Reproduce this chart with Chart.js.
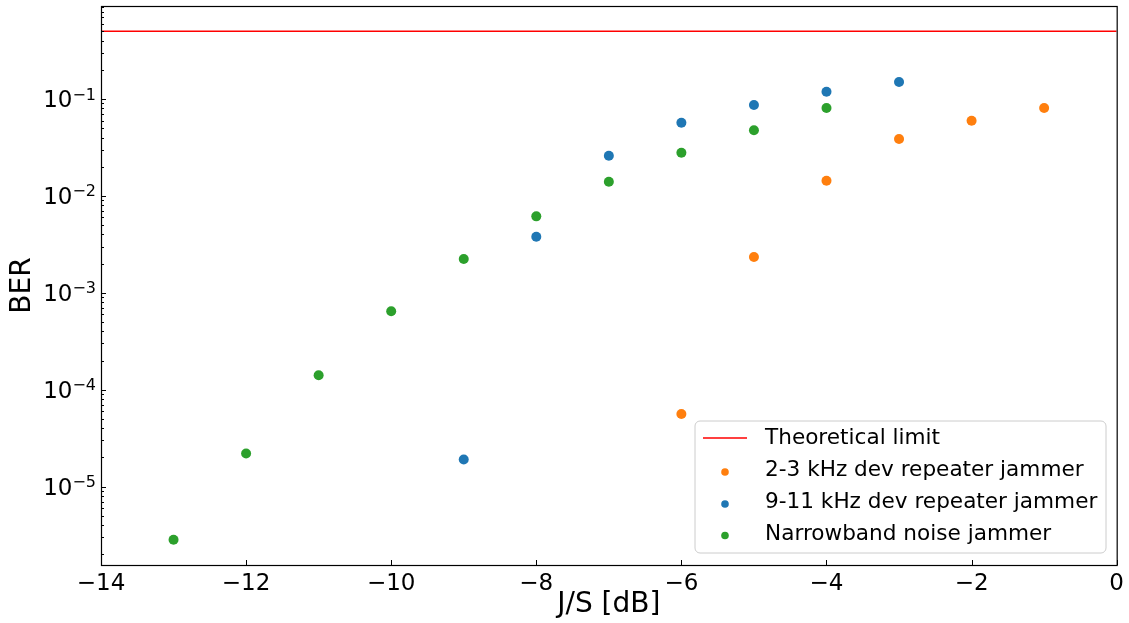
<!DOCTYPE html>
<html><head><meta charset="utf-8">
<script src="https://cdn.jsdelivr.net/npm/chart.js@4.4.1/dist/chart.umd.min.js"></script>
<style>html,body{margin:0;padding:0;background:#fff;} canvas{display:block;}</style>
</head><body>
<canvas id="c" width="1129" height="623"></canvas>
<script>
// ---- data ----
const X_MIN = -14, X_MAX = 0;
const Y_MIN = 1.55e-6, Y_MAX = 0.912;
const X_TICKS = [-14, -12, -10, -8, -6, -4, -2, 0];
const Y_TICK_EXPONENTS = [-5, -4, -3, -2, -1];
const THEORETICAL_LIMIT = 0.5;

const js_23kHz  = [-6, -5, -4, -3, -2, -1];
const ber_23kHz = [5.61e-5, 2.34e-3, 0.01435, 0.0387, 0.0597, 0.0807];

const js_911kHz  = [-9, -8, -7, -6, -5, -4, -3];
const ber_911kHz = [1.90e-5, 3.79e-3, 0.0260, 0.0569, 0.0867, 0.119, 0.150];

const js_nb  = [-13, -12, -11, -10, -9, -8, -7, -6, -5, -4];
const ber_nb = [2.83e-6, 2.19e-5, 1.41e-4, 6.44e-4, 2.23e-3, 6.15e-3, 0.0140, 0.0279, 0.0475, 0.0807];

const LABELS = ['Theoretical limit', '2-3 kHz dev repeater jammer', '9-11 kHz dev repeater jammer', 'Narrowband noise jammer'];
const COLORS = ['#ff0000', '#ff7f0e', '#1f77b4', '#2ca02c'];

// ---- helpers ----
const FONT = "'DejaVu Sans', sans-serif";
const pts = (xs, ys) => xs.map((x, i) => ({x, y: ys[i]}));
const isMajor = v => Math.abs(Math.log10(v) - Math.round(Math.log10(v))) < 1e-9;
const minusSign = n => (n < 0 ? '\u2212' + Math.abs(n) : String(n));

const frameAndTicks = {
  id: 'frameAndTicks',
  afterDatasetsDraw(chart) {
    const {ctx, chartArea: a} = chart;
    const xs = chart.scales.x, ys = chart.scales.y;
    ctx.save();
    ctx.strokeStyle = '#000';
    ctx.lineWidth = 1;
    ys.ticks.forEach(t => {
      const y = Math.round(ys.getPixelForValue(t.value)) + 0.5;
      const len = isMajor(t.value) ? 5 : 3;
      ctx.beginPath(); ctx.moveTo(a.left, y); ctx.lineTo(a.left + len, y); ctx.stroke();
    });
    xs.ticks.forEach(t => {
      const x = Math.round(xs.getPixelForValue(t.value)) + 0.5;
      ctx.beginPath(); ctx.moveTo(x, a.bottom); ctx.lineTo(x, a.bottom - 5); ctx.stroke();
    });
    ctx.lineWidth = 1.2;
    ctx.strokeRect(a.left + 0.5, a.top + 0.5, a.right - a.left, a.bottom - a.top);
    // y tick labels: 10 with raised exponent
    ctx.fillStyle = '#000';
    ctx.textBaseline = 'alphabetic';
    ctx.textAlign = 'left';
    Y_TICK_EXPONENTS.forEach(e => {
      const y = ys.getPixelForValue(Math.pow(10, e));
      const base = '10', ex = minusSign(e);
      ctx.font = '23px ' + FONT;
      const wb = ctx.measureText(base).width;
      ctx.font = '16px ' + FONT;
      const we = ctx.measureText(ex).width;
      const right = a.left - 5;
      const x0 = right - wb - we;
      ctx.font = '23px ' + FONT;
      ctx.fillText(base, x0, y + 8.3);
      ctx.font = '16px ' + FONT;
      ctx.fillText(ex, x0 + wb, y + 0.5);
    });
    ctx.restore();
  }
};

const customLegend = {
  id: 'customLegend',
  afterDraw(chart) {
    const ctx = chart.ctx;
    const bx = 695, by = 421, bw = 411, bh = 132, r = 5;
    ctx.save();
    ctx.beginPath();
    ctx.moveTo(bx + r, by);
    ctx.arcTo(bx + bw, by, bx + bw, by + bh, r);
    ctx.arcTo(bx + bw, by + bh, bx, by + bh, r);
    ctx.arcTo(bx, by + bh, bx, by, r);
    ctx.arcTo(bx, by, bx + bw, by, r);
    ctx.closePath();
    ctx.fillStyle = 'rgba(255,255,255,0.8)';
    ctx.fill();
    ctx.strokeStyle = '#cccccc';
    ctx.lineWidth = 1;
    ctx.stroke();
    ctx.font = '21.6px ' + FONT;
    ctx.textBaseline = 'middle';
    const rowY = [438, 470.5, 502.5, 534];
    chart.data.datasets.forEach((ds, i) => {
      const y = rowY[i];
      if (ds.type === 'line') {
        ctx.strokeStyle = ds.borderColor;
        ctx.lineWidth = 1.5;
        ctx.beginPath(); ctx.moveTo(703, y); ctx.lineTo(747, y); ctx.stroke();
      } else {
        ctx.fillStyle = ds.backgroundColor;
        ctx.beginPath(); ctx.arc(725, y + 1.5, 3.8, 0, Math.PI * 2); ctx.fill();
      }
      ctx.fillStyle = '#000';
      ctx.fillText(ds.label, 765, y);
    });
    ctx.restore();
  }
};

new Chart(document.getElementById('c'), {
  data: {
    datasets: [
      {type: 'line', label: LABELS[0], data: [{x: X_MIN, y: THEORETICAL_LIMIT}, {x: X_MAX, y: THEORETICAL_LIMIT}],
       borderColor: COLORS[0], borderWidth: 1.5, pointRadius: 0, fill: false, order: 4},
      {type: 'scatter', label: LABELS[1], data: pts(js_23kHz, ber_23kHz), backgroundColor: COLORS[1], borderWidth: 0, pointRadius: 5, order: 3},
      {type: 'scatter', label: LABELS[2], data: pts(js_911kHz, ber_911kHz), backgroundColor: COLORS[2], borderWidth: 0, pointRadius: 5, order: 2},
      {type: 'scatter', label: LABELS[3], data: pts(js_nb, ber_nb), backgroundColor: COLORS[3], borderWidth: 0, pointRadius: 5, order: 1}
    ]
  },
  options: {
    responsive: false,
    animation: false,
    devicePixelRatio: 1,
    layout: {padding: {top: 6, right: 12, left: 0, bottom: 0}},
    plugins: {legend: {display: false}, tooltip: {enabled: false}},
    scales: {
      x: {
        type: 'linear', min: X_MIN, max: X_MAX,
        afterBuildTicks: s => { s.ticks = X_TICKS.map(v => ({value: v})); },
        afterFit: s => { s.height = 58; },
        grid: {display: false, drawTicks: false},
        border: {display: false},
        ticks: {autoSkip: false, maxRotation: 0, padding: 5, color: '#000', font: {family: FONT, size: 23},
                callback: v => minusSign(v)},
        title: {display: true, text: 'J/S [dB]', color: '#000', font: {family: FONT, size: 28}, padding: {top: 0, bottom: 1}}
      },
      y: {
        type: 'logarithmic', min: Y_MIN, max: Y_MAX,
        afterBuildTicks: s => {
          const t = [];
          for (let e = -7; e <= 0; e++) for (let m = 1; m <= 9; m++) {
            const v = m * Math.pow(10, e);
            if (v >= Y_MIN && v <= Y_MAX) t.push({value: v});
          }
          s.ticks = t;
        },
        afterFit: s => { s.width = 101; s.paddingTop = 0; s.paddingBottom = 0; },
        grid: {display: false, drawTicks: false},
        border: {display: false},
        ticks: {autoSkip: false, padding: 6, color: '#000', font: {family: FONT, size: 10},
                callback: () => ''},
        title: {display: true, text: 'BER', color: '#000', font: {family: FONT, size: 28}, padding: {top: 6, bottom: 0}}
      }
    }
  },
  plugins: [frameAndTicks, customLegend]
});
</script>
</body></html>
